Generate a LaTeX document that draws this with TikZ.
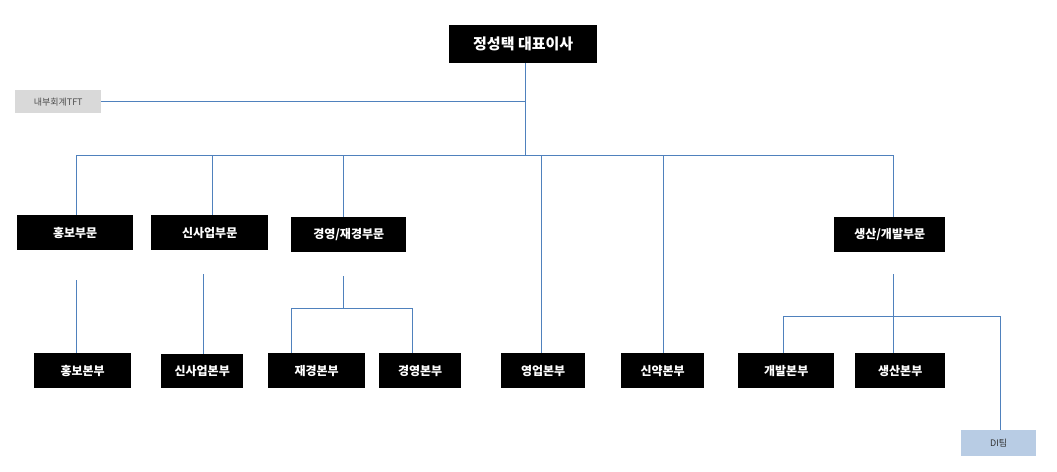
\documentclass[tikz,border=0pt]{standalone}
\usepackage{fontspec}
\setmainfont{Noto Sans CJK KR}
\definecolor{lc}{RGB}{79,129,189}
\definecolor{tftgray}{RGB}{217,217,217}
\definecolor{diblue}{RGB}{184,204,228}
\begin{document}
\begin{tikzpicture}[x=1pt,y=-1pt,
  bx/.style={fill=black,text=white,font=\bfseries\fontsize{12}{13}\selectfont,inner sep=0pt,anchor=north west},
  ln/.style={draw=lc,line width=0.8pt}]
\useasboundingbox (0,0) rectangle (1057,471);
\fill[white] (0,0) rectangle (1057,471);
\newcommand\bnode[6]{\node[bx,minimum width=#4-#2,minimum height=#5-#3] (#1) at (#2,#3) {#6};}
\node[bx,minimum width=148,minimum height=38,font=\bfseries\fontsize{15}{16}\selectfont] (ceo) at (449,25) {정성택 대표이사};
\node[anchor=north west,fill=tftgray,text=black!70,minimum width=86,minimum height=23,inner sep=0pt,font=\fontsize{9}{10}\selectfont] (tft) at (15,90) {내부회계TFT};
\bnode{a}{17}{215}{133}{250}{홍보부문}
\bnode{b}{151}{215}{268}{250}{신사업부문}
\bnode{c}{291}{217}{406}{252}{경영/재경부문}
\bnode{d}{834}{217}{945}{252}{생산/개발부문}
\bnode{a1}{34}{353}{131}{388}{홍보본부}
\bnode{b1}{161}{354}{243}{388}{신사업본부}
\bnode{c1}{268}{353}{365}{388}{재경본부}
\bnode{c2}{379}{353}{461}{388}{경영본부}
\bnode{e}{501}{353}{585}{388}{영업본부}
\bnode{f}{621}{353}{704}{388}{신약본부}
\bnode{d1}{738}{353}{834}{388}{개발본부}
\bnode{d2}{855}{353}{945}{388}{생산본부}
\node[anchor=north west,fill=diblue,text=black!80,minimum width=75,minimum height=26,inner sep=0pt,font=\fontsize{9}{10}\selectfont] (di) at (961,430) {DI팀};
\coordinate (h) at (525,155);
\draw[ln] (ceo.south -| h) -- (h);
\draw[ln] (tft.east) -- (tft.east -| h);
\draw[ln] (76,155) -- (893,155);
\draw[ln] (76,155) -- (76,215);
\draw[ln] (212,155) -- (212,215);
\draw[ln] (343,155) -- (343,217);
\draw[ln] (541,155) -- (541,353);
\draw[ln] (663,155) -- (663,353);
\draw[ln] (893,155) -- (893,217);
\draw[ln] (76,280) -- (76,353);
\draw[ln] (203,274) -- (203,354);
\draw[ln] (343,276) -- (343,308);
\draw[ln] (291,353) -- (291,308) -- (412,308) -- (412,353);
\draw[ln] (893,274) -- (893,353);
\draw[ln] (783,353) -- (783,316) -- (1000,316) -- (1000,430);
\end{tikzpicture}
\end{document}
